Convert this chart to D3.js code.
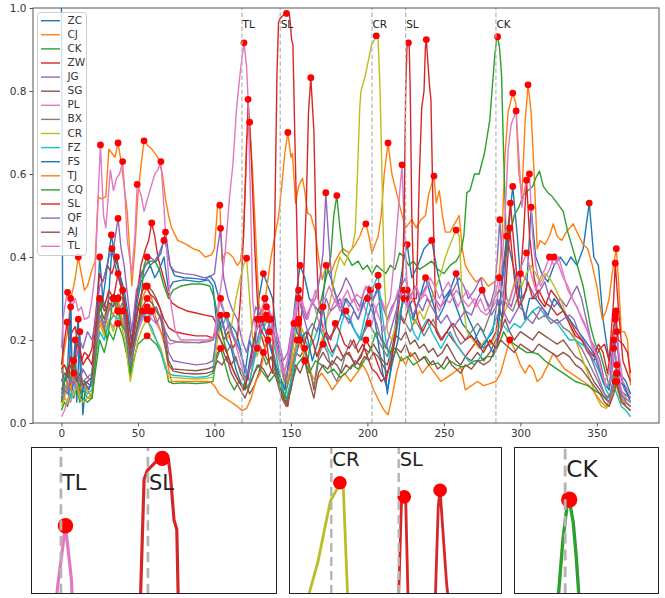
<!DOCTYPE html>
<html lang="en">
<head>
<meta charset="UTF-8">
<title>Peaks</title>
<script src="https://d3js.org/d3.v7.min.js"></script>
<style>
  body { margin: 0; background: #fff; }
  svg { font-family: "DejaVu Sans", sans-serif; }
</style>
</head>
<body>
<svg id="canvas" width="665" height="598"></svg>
<script>
// series names and colours (matplotlib cycle)
const names = ['ZC','CJ','CK','ZW','JG','SG','PL','BX','CR','FZ','FS','TJ','CQ','SL','QF','AJ','TL']
const colors = ['#1f77b4','#ff7f0e','#2ca02c','#d62728','#9467bd','#8c564b','#e377c2','#7f7f7f','#bcbd22','#17becf',
                '#1f77b4','#ff7f0e','#2ca02c','#d62728','#9467bd','#8c564b','#e377c2']

// [day, value]
const ZC = [[0,1.0],[1,0.08],[3,0.12],[5,0.06],[6,0.28],[7,0.1],[9,0.2],[10,0.05],[12,0.22],[14,0.02],[16,0.1],[19,0.09],[22,0.2],[25,0.4],[27,0.3],[30,0.26],[33,0.42],[35,0.38],[38,0.34],[41,0.3],[44,0.2],[46,0.15],[49,0.3],[52,0.36],[55,0.38],[58,0.39],[62,0.39],[65,0.41],[68,0.46],[71,0.38],[74,0.355],[80,0.35],[88,0.348],[94,0.345],[97,0.355],[100,0.34],[103,0.3],[106,0.27],[110,0.24],[114,0.22],[117,0.18],[120,0.12],[123,0.2],[126,0.16],[129,0.3],[132,0.36],[135,0.33],[138,0.3],[141,0.2],[144,0.15],[147,0.1],[150,0.2],[153,0.3],[156,0.38],[159,0.35],[162,0.3],[166,0.28],[170,0.26],[173,0.38],[176,0.35],[180,0.3],[184,0.26],[188,0.25],[192,0.22],[196,0.2],[200,0.25],[204,0.3],[207,0.33],[210,0.2],[213,0.07],[216,0.15],[220,0.3],[224,0.4],[226,0.43],[229,0.35],[233,0.38],[237,0.42],[242,0.44],[246,0.36],[250,0.3],[254,0.32],[258,0.28],[262,0.24],[266,0.22],[270,0.2],[274,0.23],[278,0.2],[282,0.22],[285,0.3],[288,0.25],[291,0.42],[295,0.57],[298,0.45],[301,0.3],[304,0.32],[307,0.52],[310,0.4],[314,0.36],[318,0.34],[322,0.38],[326,0.4],[330,0.38],[333,0.4],[337,0.38],[341,0.42],[345,0.53],[348,0.4],[351,0.38],[354,0.25],[358,0.15],[362,0.25],[365,0.12],[369,0.1],[372,0.07]]
const CJ = [[0,0.12],[2,0.18],[4,0.22],[6,0.3],[8,0.33],[9,0.35],[11,0.4],[13,0.36],[15,0.32],[17,0.33],[20,0.37],[22,0.39],[24,0.545],[26,0.54],[29,0.545],[31,0.66],[33,0.65],[35,0.64],[37,0.675],[39,0.63],[40,0.6],[43,0.51],[46,0.33],[48,0.42],[50,0.55],[52,0.62],[54,0.68],[56,0.67],[59,0.66],[63,0.64],[66,0.6],[68,0.54],[70,0.5],[72,0.47],[76,0.44],[82,0.43],[86,0.42],[90,0.415],[94,0.4],[98,0.405],[100,0.42],[102,0.52],[103.5,0.525],[105,0.39],[107,0.41],[109,0.41],[112,0.4],[115,0.38],[117,0.39],[119,0.45],[121,0.68],[123,0.725],[125,0.6],[127,0.45],[129,0.29],[131,0.25],[134,0.32],[137,0.4],[140,0.46],[142,0.5],[144,0.57],[146,0.65],[148,0.7],[150,0.64],[151,0.65],[153,0.53],[155,0.57],[157.5,0.59],[159,0.56],[161,0.505],[163,0.5],[166,0.46],[168,0.4],[170.5,0.345],[173,0.38],[176,0.36],[179,0.39],[182,0.41],[184,0.42],[188,0.41],[192,0.43],[195,0.45],[197,0.47],[199,0.48],[201,0.45],[203,0.41],[205,0.43],[207,0.45],[209,0.5],[211,0.6],[213.5,0.675],[216,0.6],[218,0.57],[220,0.54],[222,0.51],[225,0.47],[229,0.49],[232,0.47],[235,0.49],[238,0.5],[240,0.55],[243.5,0.595],[245,0.53],[247,0.56],[249,0.5],[251,0.46],[254,0.46],[257,0.48],[260,0.5],[262,0.42],[264,0.38],[267,0.36],[271,0.34],[275,0.35],[279,0.33],[283,0.34],[286,0.35],[288,0.45],[290,0.65],[292,0.75],[295,0.795],[297,0.77],[299,0.6],[301,0.55],[303,0.72],[305,0.815],[307,0.75],[309,0.6],[311,0.42],[313,0.44],[316,0.43],[319,0.45],[321.5,0.48],[324,0.45],[327,0.44],[330,0.46],[334.5,0.48],[337,0.46],[341,0.43],[344,0.42],[347,0.38],[350,0.33],[353.5,0.25],[356,0.27],[358,0.3],[360,0.36],[362.7,0.42],[364,0.35],[366,0.22],[368,0.22],[370,0.2],[372,0.09]]
const CK = [[0,0.03],[2,0.05],[4,0.04],[6,0.07],[8,0.06],[10,0.09],[12,0.05],[14,0.08],[17,0.06],[20,0.06],[22,0.12],[25,0.2],[28,0.17],[31,0.22],[34,0.2],[37,0.24],[40,0.21],[43,0.16],[45,0.11],[47,0.15],[50,0.19],[53,0.2],[56,0.21],[59,0.2],[62,0.19],[65,0.17],[68,0.14],[70,0.1],[73,0.095],[80,0.097],[88,0.095],[95,0.097],[99,0.1],[101,0.15],[104,0.18],[107,0.14],[110,0.1],[113,0.08],[116,0.1],[119,0.09],[122,0.12],[125,0.15],[128,0.18],[131,0.17],[134,0.14],[137,0.16],[140,0.12],[143,0.1],[146,0.06],[149,0.12],[152,0.2],[155,0.24],[158,0.2],[161,0.15],[164,0.22],[167,0.26],[170,0.3],[173,0.35],[176,0.4],[178,0.5],[180,0.548],[182,0.47],[184,0.41],[187,0.4],[190,0.38],[194,0.39],[197,0.37],[200,0.38],[203,0.36],[206,0.38],[209,0.37],[212,0.36],[215,0.38],[218,0.37],[221,0.41],[224,0.4],[227,0.38],[230,0.39],[234,0.37],[238,0.38],[242,0.39],[246,0.37],[250,0.36],[254,0.38],[258,0.39],[261,0.41],[263,0.45],[265,0.555],[267,0.56],[270,0.6],[273,0.6],[276.5,0.65],[280,0.73],[282.2,0.836],[283.4,0.891],[284.5,0.924],[285.1,0.931],[286.2,0.908],[287,0.874],[287.7,0.836],[289,0.65],[291,0.41],[293,0.45],[296,0.5],[299,0.52],[302,0.55],[305,0.56],[308,0.57],[310,0.59],[312.5,0.607],[315,0.57],[318,0.555],[321,0.545],[324,0.53],[328,0.51],[331,0.46],[335,0.41],[338,0.37],[341,0.33],[344,0.27],[346,0.23],[349,0.19],[352,0.17],[355,0.13],[358,0.09],[361,0.12],[364,0.08],[368,0.07],[372,0.06]]
const ZW = [[0,0.14],[2,0.2],[3.7,0.243],[5,0.2],[7,0.22],[9,0.232],[11,0.18],[13,0.15],[15,0.17],[18,0.16],[20,0.18],[22,0.25],[25,0.36],[27,0.34],[30,0.38],[33,0.36],[36,0.4],[38,0.36],[41,0.3],[44,0.24],[46,0.2],[49,0.3],[52,0.38],[55,0.42],[57,0.44],[59,0.482],[61,0.45],[63,0.4],[66,0.36],[69,0.32],[72,0.29],[76,0.28],[82,0.27],[88,0.265],[94,0.26],[99,0.256],[101,0.24],[103,0.25],[106,0.2],[109,0.22],[112,0.18],[115,0.2],[117,0.3],[119,0.45],[120.5,0.6],[122,0.78],[124,0.65],[126.5,0.41],[128,0.3],[130,0.22],[133,0.18],[136,0.2],[139,0.15],[142,0.1],[145,0.06],[148,0.04],[150,0.1],[153,0.16],[156,0.2],[158,0.33],[160,0.52],[161.5,0.75],[163,0.832],[165,0.705],[166.7,0.41],[168,0.3],[171,0.22],[174,0.2],[177,0.17],[180,0.19],[184,0.16],[188,0.17],[192,0.14],[196,0.16],[199,0.2],[202,0.18],[205,0.16],[209,0.12],[212,0.1],[215,0.15],[218,0.22],[221,0.26],[224,0.24],[227,0.28],[230,0.3],[232,0.3],[234,0.6],[235.5,0.76],[237,0.8],[237.9,0.905],[238.5,0.924],[239.6,0.865],[240.6,0.813],[241.5,0.78],[243,0.5],[245,0.22],[248,0.2],[252,0.22],[256,0.2],[260,0.18],[264,0.16],[268,0.18],[272,0.2],[276,0.18],[280,0.19],[284,0.22],[287,0.3],[290,0.4],[293.5,0.53],[296,0.42],[299,0.3],[302,0.45],[304,0.585],[306,0.45],[309,0.35],[312,0.3],[316,0.28],[320,0.32],[324,0.3],[328,0.27],[332,0.25],[336,0.22],[340,0.2],[344,0.17],[348,0.15],[352,0.18],[355,0.19],[358,0.15],[361,0.3],[362,0.385],[364,0.28],[367,0.15],[370,0.12],[372,0.1]]
const JG = [[0,0.07],[2,0.1],[4,0.12],[6,0.09],[8,0.14],[10,0.16],[12,0.2],[14,0.18],[17,0.22],[20,0.2],[22,0.24],[25,0.33],[28,0.35],[31,0.4],[34,0.42],[37,0.493],[39,0.42],[41,0.38],[44,0.28],[46,0.22],[49,0.32],[52,0.35],[55,0.38],[58,0.4],[61,0.39],[64,0.41],[67,0.44],[69,0.42],[71,0.38],[74,0.365],[80,0.36],[87,0.357],[93,0.35],[97,0.352],[100,0.36],[102,0.42],[104,0.469],[106,0.35],[109,0.3],[112,0.27],[115,0.25],[118,0.2],[121,0.17],[124,0.22],[127,0.28],[130,0.26],[133,0.3],[136,0.27],[139,0.24],[142,0.2],[145,0.15],[148,0.17],[151,0.24],[154,0.3],[157,0.28],[160,0.25],[163,0.28],[166,0.3],[169,0.35],[171,0.41],[172.8,0.555],[174.5,0.45],[177,0.33],[180,0.3],[183,0.32],[186,0.35],[189,0.33],[192,0.3],[195,0.28],[198,0.32],[201,0.33],[204,0.3],[207,0.32],[210,0.28],[213,0.25],[216,0.28],[219,0.3],[222,0.33],[225,0.35],[228,0.3],[231,0.33],[234,0.3],[237,0.32],[240,0.34],[244,0.3],[248,0.28],[252,0.3],[256,0.32],[260,0.35],[263,0.33],[266,0.3],[270,0.32],[274,0.35],[277,0.3],[280,0.28],[283,0.32],[285,0.4],[286.5,0.49],[288,0.4],[291,0.3],[294,0.28],[297,0.32],[300,0.36],[303,0.35],[306,0.33],[310,0.3],[313,0.32],[316,0.34],[319,0.3],[322,0.28],[326,0.3],[330,0.28],[334,0.31],[337,0.33],[340,0.3],[343,0.25],[346,0.2],[349,0.18],[352,0.15],[355,0.1],[358,0.08],[361,0.15],[363,0.22],[365,0.12],[368,0.08],[372,0.06]]
const SG = [[0,0.08],[2,0.1],[4,0.12],[6,0.1],[8,0.13],[10,0.11],[12,0.09],[14,0.1],[17,0.085],[20,0.09],[22,0.16],[25,0.28],[28,0.25],[31,0.3],[34,0.31],[37,0.3],[40,0.32],[43,0.23],[45,0.15],[47,0.2],[50,0.27],[53,0.32],[56,0.33],[59,0.32],[62,0.3],[65,0.27],[68,0.2],[70,0.15],[73,0.13],[80,0.128],[88,0.126],[95,0.13],[99,0.135],[102,0.17],[105,0.18],[108,0.15],[111,0.14],[114,0.16],[117,0.12],[120,0.1],[123,0.07],[126,0.09],[129,0.12],[132,0.17],[135,0.15],[138,0.16],[141,0.12],[144,0.07],[147,0.05],[150,0.1],[153,0.17],[156,0.16],[159,0.18],[162,0.14],[165,0.08],[168,0.15],[171,0.17],[174,0.15],[177,0.14],[180,0.16],[183,0.15],[186,0.17],[189,0.16],[192,0.14],[195,0.16],[198,0.18],[201,0.17],[204,0.19],[207,0.17],[210,0.15],[213,0.14],[216,0.18],[219,0.21],[222,0.2],[225,0.22],[228,0.19],[231,0.2],[234,0.18],[237,0.19],[240,0.17],[243,0.18],[246,0.16],[249,0.17],[252,0.19],[255,0.17],[258,0.15],[261,0.14],[264,0.16],[268,0.15],[272,0.17],[276,0.15],[280,0.17],[284,0.2],[287,0.22],[290,0.25],[293,0.22],[296,0.2],[300,0.22],[304,0.21],[308,0.2],[312,0.22],[316,0.21],[320,0.2],[324,0.19],[328,0.2],[332,0.18],[336,0.16],[340,0.15],[344,0.13],[348,0.1],[352,0.08],[355,0.06],[358,0.05],[361,0.08],[363,0.12],[366,0.06],[369,0.04],[372,0.03]]
const PL = [[0,0.015],[2,0.03],[4,0.06],[6,0.05],[8,0.08],[10,0.1],[12,0.07],[14,0.09],[17,0.08],[20,0.1],[22,0.16],[25,0.22],[28,0.2],[31,0.25],[34,0.23],[37,0.27],[40,0.25],[43,0.19],[45,0.13],[47,0.17],[50,0.22],[53,0.25],[56,0.27],[59,0.25],[62,0.24],[65,0.22],[68,0.2],[71,0.19],[75,0.195],[82,0.193],[90,0.195],[96,0.198],[99,0.2],[101,0.24],[104,0.3],[107,0.26],[110,0.22],[113,0.2],[116,0.16],[119,0.12],[122,0.08],[125,0.14],[128,0.2],[131,0.24],[134,0.28],[137,0.26],[140,0.22],[143,0.18],[146,0.12],[149,0.18],[152,0.26],[155,0.32],[158,0.28],[161,0.25],[164,0.3],[167,0.26],[170,0.22],[173,0.25],[176,0.27],[179,0.3],[182,0.27],[185,0.3],[188,0.28],[191,0.3],[194,0.27],[197,0.29],[200,0.26],[203,0.24],[206,0.28],[209,0.3],[212,0.27],[215,0.3],[218,0.41],[221,0.55],[222.6,0.622],[224,0.48],[226,0.33],[229,0.3],[232,0.28],[235,0.3],[238,0.31],[241,0.29],[244,0.3],[247,0.27],[250,0.3],[254,0.29],[258,0.32],[262,0.3],[266,0.28],[270,0.3],[274,0.27],[278,0.26],[282,0.28],[285,0.3],[288,0.38],[290,0.5],[292,0.66],[294,0.72],[297.2,0.752],[299.3,0.625],[301,0.52],[303,0.57],[305.9,0.6],[308,0.45],[310,0.38],[313,0.33],[316,0.35],[319,0.37],[322,0.4],[325,0.38],[328,0.35],[331,0.33],[334,0.3],[337,0.28],[340,0.25],[344,0.22],[348,0.17],[352,0.12],[355,0.1],[358,0.12],[361,0.2],[362.5,0.27],[364,0.18],[367,0.1],[370,0.08],[372,0.06]]
const BX = [[0,0.06],[2,0.08],[4,0.1],[6,0.09],[8,0.11],[10,0.1],[12,0.12],[14,0.1],[17,0.11],[20,0.12],[22,0.18],[25,0.26],[28,0.24],[31,0.28],[34,0.3],[37,0.27],[40,0.29],[43,0.21],[45,0.15],[47,0.19],[50,0.23],[53,0.26],[56,0.28],[59,0.26],[62,0.28],[65,0.25],[68,0.22],[71,0.2],[75,0.196],[82,0.195],[90,0.193],[96,0.196],[99,0.2],[102,0.22],[105,0.19],[108,0.17],[111,0.19],[114,0.15],[117,0.13],[120,0.11],[123,0.13],[126,0.16],[129,0.19],[132,0.17],[135,0.2],[138,0.18],[141,0.13],[144,0.1],[147,0.08],[150,0.12],[153,0.18],[156,0.2],[159,0.17],[162,0.13],[165,0.09],[168,0.16],[171,0.19],[174,0.17],[177,0.12],[180,0.1],[183,0.13],[186,0.17],[189,0.2],[192,0.18],[195,0.2],[198,0.22],[201,0.24],[204,0.22],[207,0.2],[210,0.18],[213,0.16],[216,0.2],[219,0.24],[222,0.26],[225,0.24],[228,0.22],[231,0.25],[234,0.23],[237,0.21],[240,0.23],[243,0.25],[246,0.22],[249,0.2],[252,0.22],[255,0.24],[258,0.21],[261,0.19],[264,0.2],[268,0.22],[272,0.24],[276,0.22],[280,0.26],[283,0.3],[286,0.32],[289,0.3],[292,0.28],[295,0.27],[298,0.3],[301,0.28],[304,0.25],[308,0.27],[312,0.25],[316,0.26],[320,0.24],[324,0.25],[328,0.23],[332,0.22],[336,0.2],[340,0.18],[344,0.15],[348,0.12],[352,0.09],[355,0.07],[358,0.06],[361,0.11],[363,0.14],[366,0.07],[369,0.05],[372,0.04]]
const CR = [[0,0.04],[2,0.06],[4,0.05],[6,0.08],[8,0.07],[10,0.09],[12,0.06],[14,0.05],[17,0.06],[20,0.07],[22,0.15],[25,0.24],[28,0.21],[31,0.25],[34,0.22],[37,0.27],[39,0.24],[42,0.19],[45,0.1],[47,0.14],[50,0.2],[53,0.23],[56,0.25],[59,0.22],[62,0.2],[65,0.18],[68,0.14],[70,0.11],[73,0.11],[80,0.108],[88,0.106],[95,0.108],[99,0.11],[102,0.2],[105,0.25],[108,0.2],[111,0.23],[114,0.3],[117,0.35],[119,0.38],[121,0.397],[123,0.3],[125,0.2],[128,0.16],[131,0.22],[134,0.26],[137,0.22],[140,0.18],[143,0.14],[146,0.09],[149,0.12],[152,0.2],[155,0.25],[158,0.22],[161,0.18],[164,0.2],[167,0.16],[170,0.2],[173,0.24],[176,0.3],[179,0.36],[182,0.4],[185,0.38],[188,0.41],[190,0.42],[192,0.46],[193.5,0.6],[195,0.76],[195.8,0.8],[198.6,0.837],[202.7,0.911],[204.8,0.925],[205.8,0.933],[206.9,0.929],[208.3,0.799],[209.5,0.6],[211,0.35],[213,0.22],[216,0.2],[219,0.24],[222,0.28],[225,0.3],[228,0.26],[231,0.24],[234,0.27],[237,0.25],[240,0.28],[244,0.32],[248,0.36],[251,0.4],[254,0.43],[258,0.465],[260,0.45],[262,0.3],[265,0.22],[269,0.2],[273,0.18],[277,0.2],[281,0.19],[285,0.22],[289,0.26],[293,0.3],[297,0.35],[301,0.33],[304,0.36],[307,0.38],[310,0.36],[313,0.34],[316,0.36],[319,0.35],[322,0.33],[326,0.3],[330,0.26],[334,0.22],[338,0.18],[342,0.14],[346,0.1],[350,0.06],[353,0.04],[356,0.035],[359,0.05],[361,0.1],[363,0.12],[366,0.05],[369,0.04],[372,0.03]]
const FZ = [[0,0.05],[2,0.07],[4,0.09],[6,0.06],[8,0.1],[10,0.08],[12,0.11],[14,0.09],[17,0.07],[20,0.08],[22,0.15],[25,0.22],[28,0.2],[31,0.24],[34,0.26],[37,0.25],[40,0.27],[43,0.2],[45,0.13],[47,0.17],[50,0.23],[53,0.27],[56,0.25],[59,0.23],[62,0.2],[65,0.17],[68,0.13],[70,0.12],[73,0.115],[80,0.113],[88,0.11],[95,0.112],[99,0.12],[102,0.25],[105,0.23],[108,0.26],[111,0.22],[114,0.2],[117,0.17],[120,0.13],[123,0.1],[126,0.15],[129,0.2],[132,0.23],[135,0.25],[138,0.21],[141,0.15],[144,0.09],[147,0.06],[150,0.1],[153,0.16],[156,0.22],[159,0.2],[162,0.18],[165,0.2],[168,0.23],[171,0.21],[174,0.18],[177,0.16],[180,0.19],[183,0.24],[186,0.27],[189,0.25],[192,0.22],[195,0.2],[198,0.25],[201,0.3],[204,0.33],[207,0.356],[209,0.28],[212,0.2],[215,0.15],[218,0.2],[221,0.26],[224,0.3],[227,0.27],[230,0.22],[233,0.2],[236,0.23],[239,0.25],[242,0.22],[245,0.2],[248,0.18],[251,0.2],[254,0.22],[258,0.19],[262,0.17],[266,0.15],[270,0.14],[274,0.16],[278,0.2],[282,0.23],[285,0.26],[288,0.24],[292,0.22],[296,0.24],[300,0.23],[304,0.25],[308,0.27],[312,0.28],[316,0.26],[320,0.25],[324,0.24],[328,0.22],[332,0.2],[336,0.2],[340,0.19],[344,0.18],[348,0.15],[352,0.12],[356,0.08],[359,0.06],[361,0.09],[363,0.07],[366,0.04],[369,0.03],[372,0.015]]
const FS = [[0,0.05],[2,0.1],[4,0.13],[6,0.3],[7,0.08],[9,0.18],[11,0.25],[13,0.06],[15,0.1],[18,0.08],[21,0.12],[24,0.3],[26,0.27],[29,0.35],[32.6,0.453],[35,0.4],[38,0.36],[41,0.32],[44,0.25],[46,0.18],[49,0.28],[52,0.34],[55,0.36],[58,0.38],[61,0.35],[64,0.37],[67,0.4],[70,0.32],[73,0.34],[80,0.345],[90,0.34],[96,0.345],[99,0.33],[102,0.22],[105,0.25],[108,0.2],[111,0.18],[114,0.13],[117,0.1],[120,0.08],[123,0.15],[127,0.22],[131,0.25],[135,0.2],[139,0.15],[142,0.12],[146,0.08],[149,0.16],[152,0.24],[156,0.2],[160,0.22],[164,0.15],[168,0.2],[171,0.28],[174,0.2],[178,0.22],[182,0.25],[186,0.3],[190,0.28],[194,0.25],[198,0.3],[202,0.32],[206,0.22],[210,0.12],[213,0.08],[216,0.14],[220,0.2],[223,0.3],[226,0.32],[230,0.25],[234,0.3],[238,0.35],[242,0.3],[246,0.25],[250,0.28],[254,0.32],[258,0.36],[261,0.3],[265,0.26],[270,0.22],[274,0.18],[278,0.2],[282,0.17],[285,0.2],[288,0.35],[291,0.45],[294,0.4],[297,0.35],[300,0.3],[303,0.25],[306,0.3],[310,0.3],[314,0.28],[318,0.26],[322,0.3],[326,0.28],[330,0.26],[334,0.24],[338,0.22],[342,0.2],[346,0.18],[350,0.15],[354,0.1],[358,0.08],[361,0.2],[364,0.1],[368,0.09],[372,0.05]]
const TJ = [[0,0.05],[2,0.06],[4,0.1],[6,0.08],[8,0.12],[10,0.09],[12,0.07],[14,0.1],[17,0.08],[20,0.06],[22,0.15],[25,0.25],[28,0.22],[31,0.28],[34,0.26],[37,0.3],[40,0.24],[43,0.2],[45,0.14],[47,0.17],[50,0.24],[53,0.3],[56,0.33],[59,0.3],[62,0.25],[65,0.22],[68,0.18],[70,0.13],[72,0.1],[78,0.1],[85,0.1],[92,0.1],[97,0.1],[100,0.09],[103,0.07],[107,0.06],[111,0.05],[115,0.04],[118,0.03],[121,0.035],[124,0.06],[127,0.1],[130,0.12],[133,0.18],[136,0.22],[139,0.2],[142,0.16],[145,0.12],[148,0.1],[151,0.15],[154,0.2],[157,0.18],[160,0.14],[163,0.12],[166,0.1],[170,0.12],[174,0.1],[177,0.08],[181,0.1],[185,0.12],[189,0.1],[193,0.12],[197,0.14],[200,0.12],[204,0.08],[208,0.05],[211,0.03],[213.5,0.02],[216,0.06],[219,0.12],[222,0.16],[225,0.14],[228,0.17],[232,0.15],[236,0.12],[240,0.14],[244,0.12],[248,0.1],[252,0.11],[256,0.12],[261,0.135],[264,0.08],[268,0.09],[272,0.1],[276,0.09],[280,0.095],[284,0.1],[287,0.12],[290,0.16],[293,0.2],[296,0.18],[300,0.14],[303,0.12],[306,0.14],[308.5,0.128],[311,0.1],[314,0.11],[318,0.14],[321.5,0.168],[325,0.15],[329,0.13],[333,0.12],[337,0.11],[341,0.1],[345,0.09],[349,0.07],[353,0.05],[356,0.04],[359,0.06],[362,0.1],[365,0.06],[368,0.05],[372,0.04]]
const CQ = [[0,0.05],[2,0.1],[4,0.14],[6,0.1],[8,0.15],[10,0.12],[12,0.08],[14,0.06],[17,0.05],[20,0.06],[22,0.14],[25,0.3],[27,0.24],[30,0.2],[33,0.28],[36,0.3],[39,0.24],[42,0.22],[45,0.12],[48,0.2],[51,0.26],[54,0.38],[56,0.4],[58,0.38],[61,0.39],[64,0.37],[67,0.33],[70,0.3],[73,0.32],[78,0.33],[85,0.335],[92,0.335],[97,0.33],[100,0.3],[103,0.24],[106,0.2],[109,0.16],[112,0.13],[116,0.1],[120,0.08],[124,0.1],[128,0.14],[132,0.12],[136,0.1],[140,0.12],[144,0.08],[148,0.05],[151,0.1],[154,0.14],[158,0.16],[162,0.12],[166,0.15],[170,0.14],[174,0.12],[178,0.13],[182,0.11],[186,0.12],[190,0.14],[194,0.13],[198,0.15],[202,0.18],[206,0.22],[210,0.2],[214,0.17],[218,0.18],[222,0.15],[226,0.16],[230,0.14],[234,0.15],[238,0.16],[242,0.14],[246,0.145],[250,0.13],[254,0.15],[258,0.14],[262,0.135],[266,0.14],[270,0.15],[274,0.15],[278,0.16],[282,0.16],[286,0.19],[289,0.22],[292,0.2],[296,0.19],[300,0.18],[304,0.17],[308,0.17],[312,0.165],[316,0.15],[320,0.14],[324,0.13],[328,0.12],[332,0.11],[336,0.1],[340,0.095],[344,0.09],[348,0.08],[352,0.07],[356,0.06],[359,0.07],[362,0.1],[365,0.07],[368,0.06],[372,0.05]]
const SL = [[0,0.13],[2,0.14],[4,0.12],[6,0.16],[8,0.13],[10,0.19],[12,0.18],[14,0.14],[17,0.16],[20,0.14],[22,0.22],[25,0.3],[28,0.28],[31,0.32],[34,0.3],[37,0.36],[40,0.31],[43,0.25],[45,0.18],[47,0.22],[50,0.28],[53,0.32],[55,0.33],[58,0.31],[61,0.3],[64,0.28],[67,0.25],[70,0.23],[74,0.22],[80,0.215],[88,0.21],[95,0.21],[99,0.205],[101,0.22],[104,0.2],[107,0.18],[110,0.15],[113,0.12],[116,0.1],[119,0.08],[122,0.11],[125,0.18],[128,0.25],[131,0.22],[134,0.2],[136,0.14],[138,0.12],[139.5,0.5],[140.9,0.844],[141.9,0.965],[142.8,0.974],[145.2,0.983],[147.1,0.987],[148.9,0.986],[149.5,0.968],[150.5,0.922],[151.3,0.912],[152.5,0.7],[154,0.45],[155.5,0.2],[158,0.18],[161,0.22],[164,0.2],[167,0.16],[170,0.19],[173,0.22],[176,0.2],[179,0.24],[182,0.22],[185,0.19],[188,0.18],[191,0.2],[194,0.17],[197,0.19],[200,0.16],[203,0.13],[206,0.12],[209,0.1],[212,0.11],[215,0.14],[218,0.2],[221,0.3],[223,0.35],[224,0.5],[225,0.8],[225.9,0.909],[226.8,0.916],[227.3,0.909],[228,0.8],[229,0.5],[230.5,0.3],[233,0.25],[236,0.22],[240,0.25],[244,0.23],[248,0.2],[252,0.22],[256,0.24],[260,0.22],[264,0.2],[268,0.21],[272,0.19],[276,0.17],[280,0.2],[284,0.18],[287,0.22],[290,0.3],[293,0.47],[296,0.35],[299,0.28],[302,0.3],[305,0.34],[308,0.3],[312,0.32],[316,0.29],[320,0.28],[324,0.26],[328,0.27],[332,0.24],[336,0.21],[340,0.2],[344,0.18],[348,0.16],[351,0.19],[354,0.17],[357,0.12],[360,0.2],[362,0.26],[364,0.2],[367,0.19],[370,0.17],[372,0.12]]
const QF = [[0,0.06],[2,0.08],[4,0.07],[6,0.11],[8,0.09],[10,0.12],[12,0.1],[14,0.13],[17,0.11],[20,0.1],[22,0.18],[25,0.26],[28,0.23],[31,0.27],[34,0.3],[37,0.26],[40,0.28],[43,0.2],[45,0.14],[47,0.18],[50,0.24],[53,0.26],[56,0.25],[59,0.27],[62,0.24],[65,0.26],[68,0.22],[70,0.17],[73,0.15],[80,0.145],[88,0.14],[95,0.143],[99,0.15],[101,0.2],[104,0.26],[107,0.22],[110,0.24],[113,0.2],[116,0.18],[119,0.14],[122,0.12],[125,0.16],[128,0.2],[131,0.24],[134,0.22],[137,0.25],[140,0.2],[143,0.15],[146,0.1],[149,0.14],[152,0.22],[155,0.3],[158,0.26],[161,0.22],[164,0.24],[167,0.22],[170,0.26],[173,0.3],[176,0.27],[179,0.28],[182,0.3],[185,0.26],[188,0.24],[191,0.27],[194,0.25],[197,0.28],[200,0.3],[203,0.27],[206,0.24],[209,0.2],[212,0.18],[215,0.22],[218,0.26],[221,0.3],[224,0.32],[227,0.28],[230,0.26],[233,0.29],[236,0.27],[239,0.3],[242,0.28],[245,0.26],[248,0.24],[252,0.26],[256,0.23],[260,0.25],[264,0.27],[268,0.26],[272,0.3],[275,0.32],[278,0.29],[281,0.26],[284,0.28],[287,0.3],[290,0.26],[293,0.24],[296,0.26],[299,0.28],[302,0.27],[305,0.25],[308,0.24],[311,0.26],[314,0.28],[317,0.26],[320,0.25],[324,0.24],[328,0.25],[332,0.26],[335,0.25],[338,0.22],[341,0.2],[344,0.18],[348,0.14],[352,0.1],[355,0.07],[358,0.05],[361,0.1],[363,0.12],[366,0.07],[369,0.05],[372,0.04]]
const AJ = [[0,0.1],[2,0.12],[4,0.11],[6,0.14],[8,0.12],[10,0.1],[12,0.12],[14,0.09],[17,0.1],[20,0.11],[22,0.2],[25,0.3],[28,0.27],[31,0.29],[34,0.28],[37,0.31],[40,0.3],[43,0.22],[45,0.16],[47,0.19],[50,0.24],[53,0.28],[56,0.3],[59,0.29],[62,0.27],[65,0.25],[68,0.18],[70,0.14],[73,0.125],[80,0.12],[88,0.118],[95,0.12],[99,0.125],[102,0.15],[105,0.14],[108,0.16],[111,0.12],[114,0.1],[117,0.08],[120,0.06],[123,0.09],[126,0.12],[129,0.14],[132,0.13],[135,0.11],[138,0.13],[141,0.1],[144,0.06],[147,0.04],[150,0.08],[153,0.14],[156,0.12],[159,0.15],[162,0.1],[165,0.06],[168,0.12],[171,0.14],[174,0.13],[177,0.15],[180,0.14],[183,0.12],[186,0.14],[189,0.13],[192,0.15],[195,0.14],[198,0.16],[201,0.15],[204,0.17],[207,0.16],[210,0.14],[213,0.12],[216,0.15],[219,0.18],[222,0.17],[225,0.19],[228,0.16],[231,0.17],[234,0.15],[237,0.16],[240,0.14],[243,0.15],[246,0.13],[249,0.14],[252,0.16],[255,0.14],[258,0.13],[261,0.12],[264,0.14],[268,0.13],[272,0.15],[276,0.14],[280,0.15],[284,0.18],[287,0.2],[290,0.19],[293,0.18],[296,0.17],[300,0.19],[304,0.18],[308,0.17],[312,0.19],[316,0.18],[320,0.17],[324,0.16],[328,0.17],[332,0.16],[336,0.14],[340,0.13],[344,0.11],[348,0.09],[352,0.07],[355,0.05],[358,0.04],[361,0.07],[363,0.1],[366,0.05],[369,0.04],[372,0.03]]
const TL = [[0,0.18],[1,0.25],[3,0.3],[4,0.315],[6,0.28],[8,0.29],[9,0.3],[11,0.27],[13,0.28],[15,0.25],[18,0.255],[20,0.3],[22,0.36],[24,0.55],[25.5,0.67],[27.5,0.5],[29,0.47],[32,0.61],[34,0.56],[36,0.59],[38,0.6],[40,0.63],[41.5,0.55],[43,0.44],[46,0.36],[48,0.45],[49.5,0.575],[52,0.55],[54,0.51],[57,0.55],[61,0.6],[63,0.61],[65,0.63],[66.5,0.55],[68,0.46],[71,0.3],[74.5,0.22],[78,0.2],[84,0.2],[90,0.2],[95,0.2],[99,0.205],[100.5,0.21],[103,0.3],[105,0.35],[107,0.41],[110,0.55],[112,0.62],[114.5,0.76],[117,0.85],[119.3,0.916],[121,0.86],[122,0.78],[123.5,0.55],[125,0.3],[127,0.22],[130,0.25],[133,0.3],[136,0.26],[139,0.2],[142,0.16],[145,0.12],[148,0.15],[151,0.22],[154,0.28],[157,0.3],[160,0.26],[163,0.28],[166,0.32],[169,0.28],[172,0.3],[175,0.33],[178,0.3],[181,0.28],[184,0.3],[187,0.32],[190,0.29],[193,0.31],[196,0.3],[199,0.33],[202,0.3],[205,0.28],[208,0.25],[211,0.22],[214,0.25],[217,0.28],[220,0.32],[223,0.3],[226,0.28],[229,0.31],[232,0.33],[235,0.3],[238,0.32],[241,0.35],[244,0.33],[247,0.3],[250,0.32],[253,0.34],[256,0.31],[259,0.28],[262,0.3],[265,0.32],[268,0.3],[271,0.28],[274,0.3],[277,0.27],[280,0.28],[283,0.3],[286,0.35],[289,0.3],[292,0.28],[295,0.32],[298,0.35],[301,0.38],[304,0.41],[307,0.36],[310,0.32],[313,0.35],[316,0.37],[319,0.4],[322,0.38],[325,0.4],[328,0.36],[331,0.32],[334,0.3],[338,0.27],[342,0.24],[346,0.2],[350,0.16],[353,0.12],[356,0.09],[359,0.1],[361,0.18],[363,0.15],[366,0.08],[369,0.06],[372,0.05]]

const seriesData = [ZC, CJ, CK, ZW, JG, SG, PL, BX, CR, FZ, FS, TJ, CQ, SL, QF, AJ, TL]

// marked days and their labels
const markDays = [118, 143, 203, 225, 284]
const markLabels = ['TL', 'SL', 'CR', 'SL', 'CK']

const xTicks = [0, 50, 100, 150, 200, 250, 300, 350]
const yTicks = [0, 0.2, 0.4, 0.6, 0.8, 1.0]

// local maxima that stand out from their neighbourhood
let findPeaks = (pts) => {
    let out = []
    for (let i = 1; i < pts.length - 1; i++) {
        let v = pts[i][1]
        if (!(v > pts[i-1][1] && v >= pts[i+1][1])) continue
        let lm = v, rm = v
        for (let j = i - 1; j >= 0 && pts[i][0] - pts[j][0] <= 12; j--) {
            if (pts[j][1] > v) break
            lm = Math.min(lm, pts[j][1])
        }
        for (let j = i + 1; j < pts.length && pts[j][0] - pts[i][0] <= 12; j++) {
            if (pts[j][1] > v) break
            rm = Math.min(rm, pts[j][1])
        }
        if (v - Math.max(lm, rm) >= 0.06) out.push(pts[i])
    }
    return out
}

let svg = d3.select('#canvas')

// draws lines, peak dots, dashed markers; mag scales widths like a zoomed image
let drawView = (g, x, y, mag, fontSize) => {
    let line = d3.line().x(d => x(d[0])).y(d => y(d[1]))
    g.selectAll('path.series')
     .data(seriesData)
     .enter()
     .append('path')
     .attr('class', 'series')
     .attr('d', line)
     .attr('fill', 'none')
     .attr('stroke', (d, i) => colors[i])
     .attr('stroke-width', 1.4 * mag)
     .attr('stroke-linejoin', 'round')

    seriesData.forEach((s) => {
        g.selectAll(null)
         .data(findPeaks(s))
         .enter()
         .append('circle')
         .attr('cx', d => x(d[0]))
         .attr('cy', d => y(d[1]))
         .attr('r', 3.4 * mag)
         .attr('fill', '#ff0000')
    })

    // only the markers that fall inside this view
    let [d0, d1] = x.domain()
    let marks = markDays.map((d, i) => ({ day: d, label: markLabels[i] }))
                        .filter(m => m.day >= d0 && m.day <= d1)
    let [y0, y1] = y.range()
    g.selectAll('line.mark')
     .data(marks)
     .enter()
     .append('line')
     .attr('class', 'mark')
     .attr('x1', d => x(d.day)).attr('x2', d => x(d.day))
     .attr('y1', y0).attr('y2', y1)
     .attr('stroke', '#b4b4b4')
     .attr('stroke-width', 1.2 * mag)
     .attr('stroke-dasharray', (4.5 * mag) + ',' + (2.5 * mag))

    g.selectAll('text.mark')
     .data(marks)
     .enter()
     .append('text')
     .attr('class', 'mark')
     .attr('x', d => x(d.day) + 0.5 * mag)
     .attr('y', y(0.96))
     .attr('dominant-baseline', 'middle')
     .attr('font-size', fontSize)
     .attr('fill', '#222')
     .text(d => d.label)
}

// main chart
let x = d3.scaleLinear().domain([-18.6, 390.6]).range([33, 659])
let y = d3.scaleLinear().domain([0, 1]).range([423, 8])

let main = svg.append('g')
drawView(main, x, y, 1, 10.5)

main.append('rect')
    .attr('x', 33).attr('y', 8).attr('width', 626).attr('height', 415)
    .attr('fill', 'none').attr('stroke', '#555').attr('stroke-width', 1)

let xAxis = main.append('g')
    .attr('transform', 'translate(0,423)')
    .call(d3.axisBottom(x).tickValues(xTicks).tickSize(3.5).tickPadding(3).tickFormat(d3.format('d')))
let yAxis = main.append('g')
    .attr('transform', 'translate(33,0)')
    .call(d3.axisLeft(y).tickValues(yTicks).tickSize(3.5).tickPadding(3).tickFormat(d3.format('.1f')))
;[xAxis, yAxis].forEach(a => {
    a.select('.domain').remove()
    a.selectAll('line').attr('stroke', '#555')
    a.selectAll('text').attr('font-size', 10.5).attr('fill', '#333').attr('font-family', '"DejaVu Sans", sans-serif')
})

// legend
let legend = main.append('g')
legend.append('rect')
      .attr('x', 37.5).attr('y', 12.5).attr('width', 49).attr('height', 243).attr('rx', 3)
      .attr('fill', '#fff').attr('fill-opacity', 0.8).attr('stroke', '#ccc')
let items = legend.selectAll('g.item')
      .data(names)
      .enter()
      .append('g')
      .attr('transform', (d, i) => 'translate(0,' + (20.7 + i * 14.1) + ')')
items.append('line')
     .attr('x1', 41).attr('x2', 60).attr('y1', 0).attr('y2', 0)
     .attr('stroke', (d, i) => colors[i]).attr('stroke-width', 1.4)
items.append('text')
     .attr('x', 67.5).attr('y', 0).attr('dominant-baseline', 'middle')
     .attr('font-size', 10.5).attr('fill', '#333')
     .text(d => d)

// zoomed panels underneath
let panels = [
    { x0: 31, x1: 277, xd: [109.4, 180.1], yd: [0.844, 0.999], mag: 2.27, fs: 21 },
    { x0: 289, x1: 502, xd: [189.2, 258.7], yd: [0.799, 0.976], mag: 2.0, fs: 19.5 },
    { x0: 514, x1: 659, xd: [270.1, 309.5], yd: [0.836, 0.984], mag: 2.4, fs: 23 }
]
let defs = svg.append('defs')
panels.forEach((p, k) => {
    let top = 447, bottom = 594
    defs.append('clipPath').attr('id', 'clip' + k)
        .append('rect').attr('x', p.x0).attr('y', top).attr('width', p.x1 - p.x0).attr('height', bottom - top)
    let px = d3.scaleLinear().domain(p.xd).range([p.x0, p.x1])
    let py = d3.scaleLinear().domain(p.yd).range([bottom, top])
    let g = svg.append('g').attr('clip-path', 'url(#clip' + k + ')')
    g.append('rect').attr('x', p.x0).attr('y', top).attr('width', p.x1 - p.x0).attr('height', bottom - top).attr('fill', '#fff')
    drawView(g, px, py, p.mag, p.fs)
    svg.append('rect')
       .attr('x', p.x0 + 0.5).attr('y', top + 0.5).attr('width', p.x1 - p.x0 - 1).attr('height', bottom - top - 1)
       .attr('fill', 'none').attr('stroke', '#222').attr('stroke-width', 1)
})
</script>
</body>
</html>
